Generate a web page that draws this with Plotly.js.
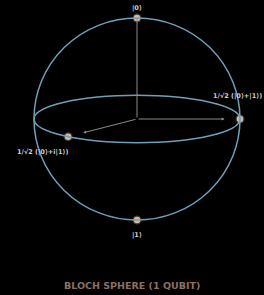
<!DOCTYPE html>
<html><head><meta charset="utf-8">
<script src="https://cdn.plot.ly/plotly-3.0.1.min.js"></script>
<style>html,body{margin:0;padding:0;background:#000;}#c{width:264px;height:295px;}</style>
</head><body><div id="c"></div>
<script>
// Bloch-sphere states: polar angle (deg) and view azimuth on the drawn equator (deg)
const stateLabels = ["|0⟩", "1/√2 (|0⟩+|1⟩)", "1/√2 (|0⟩+i|1⟩)", "|1⟩"];
const stateTheta = [0, 90, 90, 180];
const stateViewAzimuth = [0, 0, 228, 0];
// axis arrows: theta, view azimuth, length
const axisTheta = [0, 90, 90];
const axisAzimuth = [0, 0, 228];
const axisLength = [1, 0.85, 0.78];
const equatorTilt = 0.235;

// label offsets in pixels (style)
const labelShiftX = [0, -3, -26, 0];
const labelShiftY = [10, 23, -15, -15];

const d2r = Math.PI/180;
function proj(th, az, r){
  r = r === undefined ? 1 : r;
  const s = Math.sin(th*d2r), c = Math.cos(th*d2r);
  return [r*s*Math.cos(az*d2r), r*(c + equatorTilt*s*Math.sin(az*d2r))];
}
const px = [], py = [];
stateTheta.forEach((t,i)=>{const p=proj(t,stateViewAzimuth[i]); px.push(p[0]); py.push(p[1]);});

const traces = [];
const annotations = [];
axisTheta.forEach((t,i)=>{
  const p = proj(t, axisAzimuth[i], axisLength[i]);
  annotations.push({x:p[0], y:p[1], ax:0, ay:0, axref:'x', ayref:'y', xref:'x', yref:'y',
    showarrow:true, arrowhead: i===0?0:2, arrowsize:0.6, arrowwidth:1, arrowcolor:'#8a8a8a', text:''});
});
stateLabels.forEach((lab,i)=>{
  annotations.push({x:px[i], y:py[i], xref:'x', yref:'y', showarrow:false, text:lab,
    xshift:labelShiftX[i], yshift:labelShiftY[i],
    font:{family:'DejaVu Sans', size:6.5, color:'#cfcfcf', weight:'bold'}});
});
traces.push({x:px, y:py, mode:'markers', type:'scatter', hoverinfo:'skip',
  marker:{size:9, color:'rgba(215,190,165,0.3)', line:{width:0}}});
traces.push({x:px, y:py, mode:'markers', type:'scatter',
  marker:{size:6.5, color:'#d2b8a0', line:{width:0}}});

annotations.push({xref:'paper', yref:'paper', x:0.5, y:(295-285)/295, yanchor:'middle', showarrow:false,
  text:'BLOCH SPHERE (1 QUBIT)', font:{family:'DejaVu Sans', size:9.5, color:'#8e6f5f', weight:'bold'}});

const layout = {
  width:264, height:295, margin:{l:0,r:0,t:0,b:0},
  paper_bgcolor:'#000', plot_bgcolor:'#000', showlegend:false,
  xaxis:{range:[-137/103, 127/103], visible:false, fixedrange:true},
  yaxis:{range:[-176/101, 119/101], visible:false, fixedrange:true},
  shapes:[
    {type:'circle', xref:'x', yref:'y', x0:-1, x1:1, y0:-1, y1:1, line:{color:'#6f9fb8', width:1.5}},
    {type:'circle', xref:'x', yref:'y', x0:-1, x1:1, y0:-equatorTilt, y1:equatorTilt, line:{color:'#6f9fb8', width:1.5}}
  ],
  annotations: annotations
};
Plotly.newPlot('c', traces, layout, {staticPlot:true, displayModeBar:false});
</script></body></html>
